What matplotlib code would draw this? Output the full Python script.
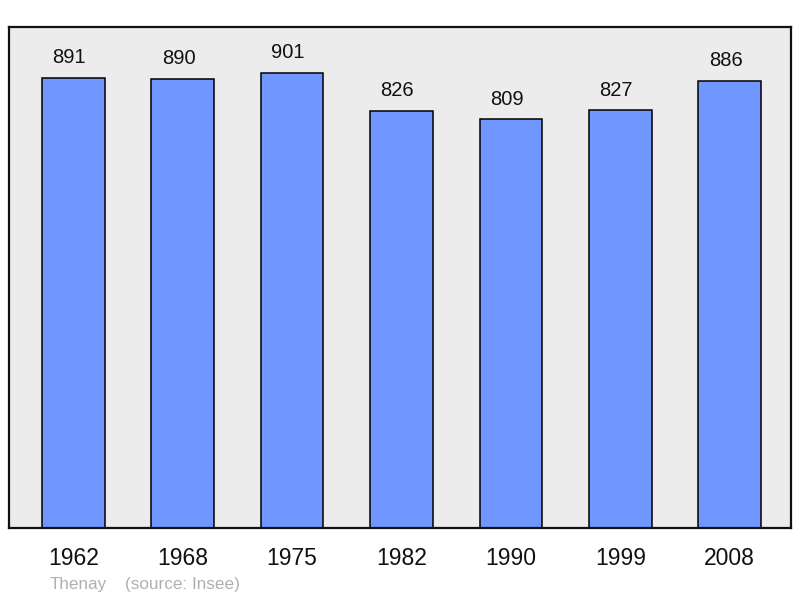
import matplotlib
matplotlib.use("Agg")
import matplotlib.pyplot as plt

years = ["1962", "1968", "1975", "1982", "1990", "1999", "2008"]
population = [891, 890, 901, 826, 809, 827, 886]
commune = "Thenay"
source = "(source: Insee)"

plt.rcParams['font.family'] = ['Liberation Sans', 'DejaVu Sans']

fig = plt.figure(figsize=(8, 5.98), dpi=100)
ax = fig.add_axes([8.5/800, (598-528)/598, 782.5/800, 501/598])
ax.set_facecolor('#ececec')

x = list(range(len(years)))
ax.bar(x, population, width=0.573, color='#7097ff', edgecolor='black', linewidth=1.1, zorder=2)
ax.set_xlim(-0.592, 6.56)
ax.set_ylim(0, 992)
ax.set_xticks([])
ax.set_yticks([])
for s in ax.spines.values():
    s.set_linewidth(1.6)
    s.set_color('#111111')

for i, v in enumerate(population):
    ax.annotate(str(v), xy=(i, v), xytext=(-3, 10.5), textcoords='offset points',
                ha='center', va='baseline', fontsize=14.5, color='#111111')

for i, y in enumerate(years):
    ax.annotate(y, xy=(i, 0), xycoords=('data', 'axes fraction'), xytext=(0, -26.3),
                textcoords='offset points', ha='center', va='baseline', fontsize=16.5, color='#111111')

fig.text(50/800, 1 - 589/598, commune, fontsize=12.3, color='#b0b0b0', ha='left', va='baseline')
fig.text(125/800, 1 - 589/598, source, fontsize=12.3, color='#b0b0b0', ha='left', va='baseline')

fig.savefig('out.png', dpi=100)
